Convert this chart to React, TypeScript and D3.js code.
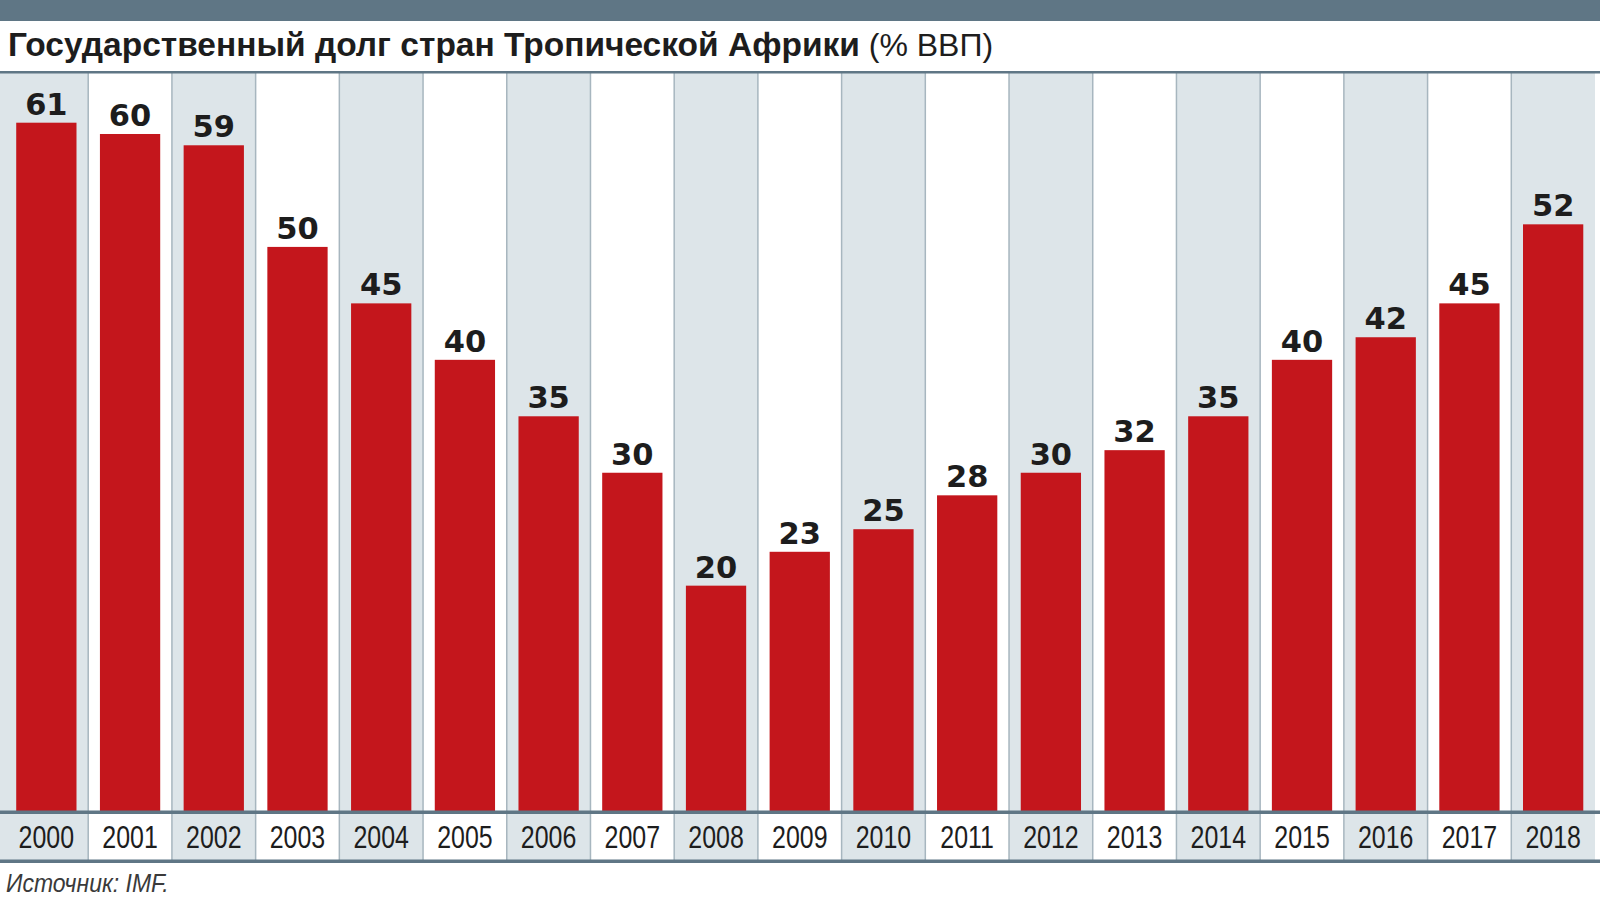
import * as d3 from "d3";

const years = ["2000", "2001", "2002", "2003", "2004", "2005", "2006", "2007", "2008", "2009",
  "2010", "2011", "2012", "2013", "2014", "2015", "2016", "2017", "2018"];
const debt = [61, 60, 59, 50, 45, 40, 35, 30, 20, 23, 25, 28, 30, 32, 35, 40, 42, 45, 52];

const titleBold = "Государственный долг стран Тропической Африки";
const titleRest = " (% ВВП)";
const source = "Источник: IMF.";

const W = 1600;
const H = 900;
const slate = "#5f7685";
const shade = "#dde5e9";
const red = "#c4161c";

export default function App() {
  // column layout
  const x = d3.scaleBand<string>().domain(years).range([4.5, 1595]).paddingInner(0).paddingOuter(0);
  const barPad = 0.14; // fraction of column each side
  const top = 73;
  const base = 811.5;
  const y = d3.scaleLinear().domain([0, 61]).range([base, 122.7]);
  const bw = x.bandwidth();

  return (
    <svg width={W} height={H} style={{ position: "absolute", left: 0, top: 0, background: "#fff" }}>
      <rect x={0} y={0} width={W} height={21} fill={slate} />
      <text x={8} y={56} fontFamily="Liberation Sans, Arial, sans-serif" fill="#1d1d1d">
        <tspan fontWeight="bold" fontSize={33.5}>{titleBold}</tspan>
        <tspan fontWeight="normal" fontSize={32}>{titleRest}</tspan>
      </text>

      {/* alternating column shading, plot and label strip */}
      {years.map((yr, i) => {
        const x0 = i === 0 ? 0 : (x(yr) as number);
        const x1 = (x(yr) as number) + bw;
        return i % 2 === 0 ? (
          <rect key={"s" + yr} x={x0} y={top} width={x1 - x0} height={860 - top} fill={shade} />
        ) : null;
      })}
      {years.slice(1).map((yr) => (
        <line key={"l" + yr} x1={x(yr)} x2={x(yr)} y1={top} y2={860} stroke="#a7b6bf" strokeWidth={1.5} />
      ))}

      {/* bars */}
      {years.map((yr, i) => (
        <rect
          key={"b" + yr}
          x={(x(yr) as number) + bw * barPad}
          y={y(debt[i])}
          width={bw * (1 - 2 * barPad)}
          height={base - y(debt[i])}
          fill={red}
        />
      ))}

      {/* value labels */}
      {years.map((yr, i) => (
        <text
          key={"v" + yr}
          x={(x(yr) as number) + bw / 2}
          y={y(debt[i]) - 8}
          textAnchor="middle"
          fontFamily="DejaVu Sans, Liberation Sans, sans-serif"
          fontWeight="bold"
          fontSize={30.5}
          fill="#1d1d1d"
        >
          {debt[i]}
        </text>
      ))}

      {/* axis lines */}
      <rect x={0} y={top - 2} width={W} height={2.5} fill={slate} />
      <rect x={0} y={810.5} width={W} height={3.5} fill={slate} />
      <rect x={0} y={859.5} width={W} height={3.5} fill={slate} />

      {/* year labels, condensed */}
      {years.map((yr) => (
        <text
          key={"t" + yr}
          transform={`translate(${(x(yr) as number) + bw / 2},848) scale(0.78,1)`}
          textAnchor="middle"
          fontFamily="Liberation Sans, Arial, sans-serif"
          fontSize={32}
          fill="#1d1d1d"
        >
          {yr}
        </text>
      ))}

      <text
        transform="translate(6,892) scale(0.92,1)"
        fontFamily="Liberation Sans, Arial, sans-serif"
        fontStyle="italic"
        fontSize={25}
        fill="#3a3a3a"
      >
        {source}
      </text>
    </svg>
  );
}
